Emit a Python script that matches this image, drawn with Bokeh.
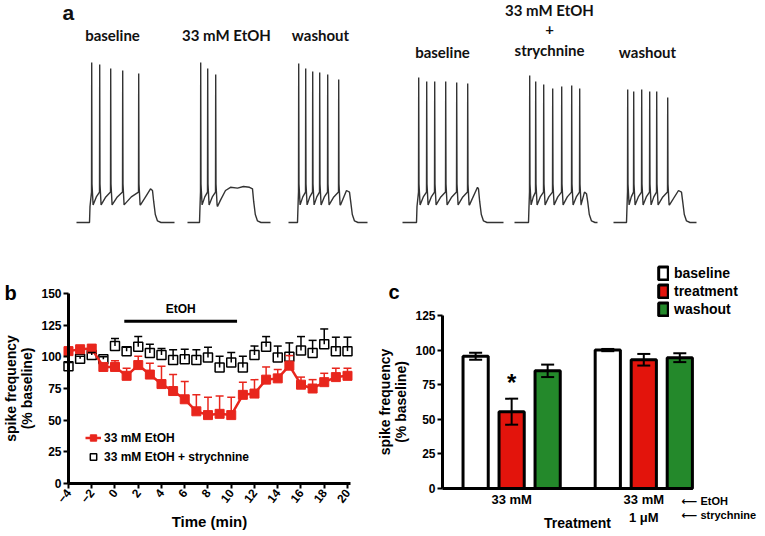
import numpy as np
from bokeh.plotting import figure
from bokeh.models import (ColumnDataSource, Whisker, TeeHead, Legend, LegendItem, Label,
                          FixedTicker, Range1d)
from bokeh.layouts import column, row
from bokeh.embed import file_html
from bokeh.resources import INLINE
from bokeh.core.properties import value

# ---------------- Panel a: example traces ----------------
trace_titles = ["baseline", "33 mM EtOH", "washout",
                "baseline", "33 mM EtOH\n+\nstrychnine", "washout"]
rest_mv = -70
step_on_ms = [130, 120, 90, 140, 140, 130]
step_off_ms = [760, 650, 610, 760, 720, 680]
trace_end_ms = [980, 830, 790, 1010, 830, 830]
spike_ms = [[150, 230, 340, 460, 620],
            [130, 200, 280],
            [100, 170, 240, 310, 390, 500],
            [160, 240, 320, 430, 540, 650],
            [150, 210, 290, 380, 470, 570, 650],
            [140, 200, 280, 360, 430, 540]]
spike_peak_mv = [[30, 28.8, 26.3, 25, 23.1],
                 [30, 26.3, 22.5],
                 [29.4, 26.3, 24.4, 23.8, 22.5, 19.4],
                 [20.6, 18.1, 18.1, 18.1, 17.5, 16.9],
                 [21.9, 18.1, 16.3, 13.8, 15, 15.6, 13.8],
                 [13.1, 11.9, 13.1, 11.9, 11.9, 8.1]]
# depolarised segment after the last spike (time ms, mV)
tail_ms = [[640, 700, 740],
           [300, 330, 380, 430, 500, 560, 620],
           [520, 580],
           [670, 750],
           [665, 700],
           [560, 650]]
tail_mv = [[-59, -53, -49],
           [-60, -56, -50, -48, -48.5, -47.5, -48],
           [-59, -50],
           [-59, -48],
           [-59, -51],
           [-59, -50]]

# layout of panel a (positions only)
trace_x0 = [760, 1870, 2880, 4020, 5140, 6130]
title_x = [1120, 2260, 3200, 4420, 5490, 6470]
title_top_y = [47.5, 47.5, 47.5, 36.3, 63.1, 36.3]
title_line_step = 12.5


def build_trace(i):
    t = [0, step_on_ms[i], step_on_ms[i] + 5]
    v = [rest_mv, rest_mv, -60]
    sp = spike_ms[i]
    for k, (ts, pk) in enumerate(zip(sp, spike_peak_mv[i])):
        t += [ts, ts + 2, ts + 5, ts + 16]
        v += [-51, pk, -46, -59]
        if k + 1 < len(sp):
            nxt = sp[k + 1]
            t += [ts + 16 + (nxt - ts - 16) * 0.5]
            v += [-54]
    t += tail_ms[i]
    v += tail_mv[i]
    off = step_off_ms[i]
    t += [off, off + 12, off + 28, off + 50, off + 85, trace_end_ms[i]]
    v += [v[-1] - 1, -57, -65, -69, rest_mv, rest_mv]
    return [x + trace_x0[i] for x in t], v


p_a = figure(width=765, height=234, x_range=Range1d(0, 7650), y_range=Range1d(-77.5, 68.75),
             output_backend="svg", toolbar_location=None, min_border=0)
p_a.axis.visible = False
p_a.grid.visible = False
p_a.outline_line_color = None
xs, ys = [], []
for i in range(len(trace_titles)):
    tx, tv = build_trace(i)
    xs.append(tx)
    ys.append(tv)
p_a.multi_line(xs=xs, ys=ys, line_color="#333333", line_width=1.4)
tt_x, tt_y, tt_s = [], [], []
for i, title in enumerate(trace_titles):
    for k, line in enumerate(title.split("\n")):
        tt_x.append(title_x[i])
        tt_y.append(title_top_y[i] - k * title_line_step)
        tt_s.append(line)
p_a.text(x=tt_x, y=tt_y, text=tt_s, text_font=value("Lato"),
         text_font_style="bold", text_font_size="15px", text_align="center",
         text_baseline="middle", text_color="#111111")
p_a.add_layout(Label(x=620, y=61.5, text="a", text_font="Liberation Sans", text_font_style="bold",
                     text_font_size="21px", text_baseline="middle", text_color="#111111"))

# ---------------- Panel b: time course ----------------
time_min = list(range(-4, 21))
etoh_mean = [104.5, 106, 106.5, 92, 92, 85, 93.5, 86, 78.5, 73, 66.5, 57, 54, 55, 54,
             70, 71, 82, 83, 93, 78, 75, 80, 84, 85]
etoh_sem = [3, 2, 2, 2, 5, 6, 7, 9, 14, 13, 14, 13, 14, 14, 14,
            10, 11, 10, 7, 8, 6, 7, 7, 7, 6]
stry_mean = [92.5, 98.5, 101.5, 98, 108.5, 104.5, 108, 103, 101.5, 97.5, 98, 97.5, 99.5,
             91.5, 95.5, 91.5, 101.5, 108, 99.5, 100, 105, 103, 110, 104.5, 104.5]
stry_sem = [3, 2, 2, 2, 6, 3, 8, 7, 5, 8, 8, 8, 8, 9, 8, 9, 7, 8, 9, 11, 11, 10, 12, 11, 11]
etoh_period = [0.8, 10.5]
etoh_bar_y = 128
b_xticks = list(range(-4, 21, 2))
b_yticks = [0, 25, 50, 75, 100, 125, 150]

RED = "#e8261d"
FONT = "Liberation Sans"


def style_axis(ax, tick_font="12px"):
    ax.axis_line_width = 3
    ax.axis_line_color = "black"
    ax.major_tick_line_width = 2
    ax.major_tick_line_color = "black"
    ax.minor_tick_line_color = None
    ax.major_label_text_font = FONT
    ax.major_label_text_font_style = "bold"
    ax.major_label_text_font_size = tick_font
    ax.major_label_text_color = "black"
    ax.axis_label_text_font = FONT
    ax.axis_label_text_font_style = "bold"
    ax.axis_label_text_color = "black"
    ax.axis_label_text_line_height = 1.0
    ax.major_label_standoff = 2
    ax.axis_label_standoff = 3


p_b = figure(width=375, height=302, x_range=Range1d(-9.849, 22.41),
             y_range=Range1d(-41.84, 196.58), output_backend="svg", toolbar_location=None,
             min_border=0)
p_b.grid.visible = False
p_b.outline_line_color = None

src_e = ColumnDataSource(dict(t=time_min, m=etoh_mean,
                              hi=[m + s for m, s in zip(etoh_mean, etoh_sem)]))
src_s = ColumnDataSource(dict(t=time_min, m=stry_mean,
                              hi=[m + s for m, s in zip(stry_mean, stry_sem)]))

p_b.add_layout(Whisker(source=src_s, base="t", lower="m", upper="hi", line_color="black",
                       line_width=1.5, lower_head=None,
                       upper_head=TeeHead(size=8, line_color="black", line_width=1.5),
                       level="glyph"))
k_sq = p_b.scatter("t", "m", source=src_s, marker="square", size=9, fill_color="white",
                   line_color="black", line_width=1.5)
p_b.add_layout(Whisker(source=src_e, base="t", lower="m", upper="hi", line_color=RED,
                       line_width=1.5, lower_head=None,
                       upper_head=TeeHead(size=8, line_color=RED, line_width=1.5),
                       level="glyph"))
r_line = p_b.line("t", "m", source=src_e, line_color=RED, line_width=2.5)
r_sq = p_b.scatter("t", "m", source=src_e, marker="square", size=9, fill_color=RED,
                   line_color=RED)

p_b.segment(x0=[etoh_period[0]], x1=[etoh_period[1]], y0=[etoh_bar_y], y1=[etoh_bar_y],
            line_color="black", line_width=3)
p_b.text(x=[(etoh_period[0] + etoh_period[1]) / 2], y=[etoh_bar_y + 4], text=["EtOH"],
         text_font=value(FONT), text_font_style="bold", text_font_size="12px",
         text_align="center", text_baseline="bottom")

style_axis(p_b.xaxis[0])
style_axis(p_b.yaxis[0])
p_b.yaxis.fixed_location = b_xticks[0]
p_b.xaxis.fixed_location = b_yticks[0]
p_b.xaxis.bounds = (b_xticks[0], 20.3)
p_b.yaxis.bounds = (b_yticks[0], b_yticks[-1])
for ax in (p_b.xaxis[0], p_b.yaxis[0]):
    ax.major_tick_out = 5
    ax.major_tick_in = 0
p_b.xaxis.ticker = FixedTicker(ticks=b_xticks)
p_b.xaxis.major_label_orientation = 0.9
p_b.yaxis.ticker = FixedTicker(ticks=b_yticks)
p_b.xaxis.axis_label = "Time (min)"
p_b.xaxis.axis_label_text_font_size = "15px"
p_b.yaxis.axis_label = "spike frequency\n(% baseline)"
p_b.yaxis.axis_label_text_font_size = "14px"

leg_b = Legend(items=[LegendItem(label="33 mM EtOH", renderers=[r_line, r_sq]),
                      LegendItem(label="33 mM EtOH + strychnine", renderers=[k_sq])],
               location=(85, 71), label_text_font=FONT, label_text_font_style="bold",
               label_text_font_size="12px", label_text_color="black",
               glyph_width=16, glyph_height=17, spacing=2,
               padding=0, margin=0, border_line_color=None, background_fill_alpha=0,
               label_standoff=3, label_height=17)
p_b.add_layout(leg_b)
p_b.add_layout(Label(x=-9.5, y=150.5, text="b", text_font=FONT, text_font_style="bold",
                     text_font_size="20px", text_baseline="middle", text_color="black"))

# ---------------- Panel c: bar summary ----------------
treat_groups = ["33 mM", "33 mM\n1 \u03bcM"]
conditions = ["baseline", "treatment", "washout"]
bar_mean = [[95.5, 55.5, 85], [100, 93, 94.5]]
bar_sem = [[2.5, 9.4, 4.5], [0.8, 4.2, 3.2]]
significant = [[False, True, False], [False, False, False]]
c_yticks = [0, 25, 50, 75, 100, 125]
bar_colors = ["#ffffff", "#e3140c", "#24892b"]
group_gap = 0.67

p_c = figure(width=390, height=302, x_range=Range1d(-2.781, 8.05),
             y_range=Range1d(-34.7, 183.5), output_backend="svg", toolbar_location=None,
             min_border=0)
p_c.grid.visible = False
p_c.outline_line_color = None

step = len(conditions) + group_gap
items = []
all_x, all_lo, all_hi = [], [], []
for ci, cond in enumerate(conditions):
    xs_c = [gi * step + ci for gi in range(len(treat_groups))]
    tops = [bar_mean[gi][ci] for gi in range(len(treat_groups))]
    r = p_c.vbar(x=xs_c, top=tops, width=0.7, fill_color=bar_colors[ci],
                 line_color="black", line_width=3)
    items.append(LegendItem(label=cond, renderers=[r]))
    for gi in range(len(treat_groups)):
        all_x.append(gi * step + ci)
        all_lo.append(bar_mean[gi][ci] - bar_sem[gi][ci])
        all_hi.append(bar_mean[gi][ci] + bar_sem[gi][ci])
src_c = ColumnDataSource(dict(x=all_x, lo=all_lo, hi=all_hi))
p_c.add_layout(Whisker(source=src_c, base="x", lower="lo", upper="hi", line_color="black",
                       line_width=2, level="overlay",
                       upper_head=TeeHead(size=13, line_color="black", line_width=2),
                       lower_head=TeeHead(size=13, line_color="black", line_width=2)))
star_x, star_y = [], []
for gi in range(len(treat_groups)):
    for ci in range(len(conditions)):
        if significant[gi][ci]:
            star_x.append(gi * step + ci)
            star_y.append(bar_mean[gi][ci] + bar_sem[gi][ci] + 2)
p_c.text(x=star_x, y=star_y, text=["*"] * len(star_x), text_font=value(FONT),
         text_font_style="bold", text_font_size="24px", text_align="center",
         text_baseline="bottom")

style_axis(p_c.xaxis[0], "13px")
style_axis(p_c.yaxis[0])
x_left = -0.92
p_c.yaxis.fixed_location = x_left
p_c.yaxis.bounds = (c_yticks[0], c_yticks[-1])
p_c.xaxis.fixed_location = c_yticks[0]
p_c.xaxis.bounds = (x_left, (len(treat_groups) - 1) * step + len(conditions) - 1 + 0.35)
p_c.yaxis.major_tick_out = 5
p_c.yaxis.major_tick_in = 0
p_c.yaxis.ticker = FixedTicker(ticks=c_yticks)
p_c.yaxis.axis_label = "spike frequency\n(% baseline)"
p_c.yaxis.axis_label_text_font_size = "14px"
group_centers = [gi * step + (len(conditions) - 1) / 2 for gi in range(len(treat_groups))]
p_c.xaxis.ticker = FixedTicker(ticks=group_centers)
p_c.xaxis.major_label_overrides = {c: g for c, g in zip(group_centers, treat_groups)}
p_c.xaxis.major_tick_out = 0
p_c.xaxis.major_tick_in = 0
p_c.xaxis.major_label_standoff = 4

leg_c = Legend(items=items, location=(282, 219), label_text_font=FONT,
               label_text_font_style="bold", label_text_font_size="14px",
               label_text_color="black",
               glyph_width=12, glyph_height=16, spacing=2, padding=0, margin=0,
               border_line_color=None, background_fill_alpha=0, label_standoff=5,
               label_height=16)
p_c.add_layout(leg_c)

for txt, yy in (("\u27f5 EtOH", -8.7), ("\u27f5 strychnine", -19.3)):
    p_c.add_layout(Label(x=5.72, y=yy, text=txt,
                         text_font="'Liberation Sans', 'DejaVu Sans', sans-serif",
                         text_font_style="bold", text_font_size="11px",
                         text_baseline="middle", text_color="black"))
p_c.add_layout(Label(x=2.83, y=-24.6, text="Treatment", text_font=FONT, text_font_style="bold",
                     text_font_size="14px", text_baseline="middle", text_align="center",
                     text_color="black"))
p_c.add_layout(Label(x=-2.42, y=141.6, text="c", text_font=FONT, text_font_style="bold",
                     text_font_size="20px", text_baseline="middle", text_color="black"))

layout = column(p_a, row(p_b, p_c))
open("out.html", "w").write(file_html(layout, INLINE))
